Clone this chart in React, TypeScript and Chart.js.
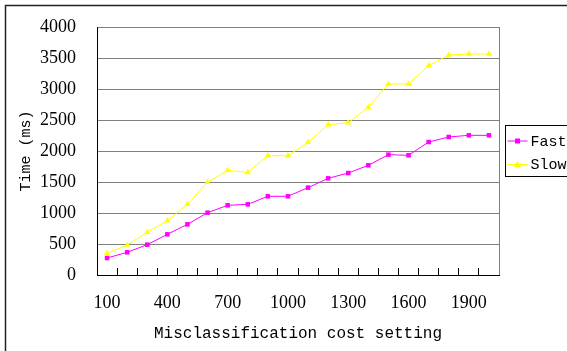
import React, { useEffect, useRef } from 'react';
import { Chart, registerables } from 'chart.js';

Chart.register(...registerables);

const categories = ['100', '200', '300', '400', '500', '600', '700', '800', '900', '1000', '1100', '1200', '1300', '1400', '1500', '1600', '1700', '1800', '1900', '2000'];
const fastValues = [274, 366, 489, 656, 817, 1005, 1124, 1140, 1269, 1269, 1409, 1559, 1645, 1769, 1941, 1930, 2145, 2226, 2253, 2253];
const slowValues = [350, 484, 689, 876, 1140, 1495, 1688, 1656, 1925, 1925, 2140, 2425, 2457, 2705, 3081, 3081, 3376, 3548, 3565, 3565];
const seriesNames = ['Fast', 'Slow'];
const seriesColors = ['#FF00FF', '#FFFF00'];
const yTitle = 'Time (ms)';
const xTitle = 'Misclassification cost setting';

const SERIF = '"Liberation Serif", "DejaVu Serif", serif';
const MONO = '"Liberation Mono", "DejaVu Sans Mono", monospace';

const decorPlugin = {
  id: 'decor',
  beforeDraw(chart: any) {
    const ctx = chart.ctx;
    ctx.save();
    ctx.fillStyle = '#fff';
    ctx.fillRect(0, 0, chart.width, chart.height);
    ctx.restore();
  },
  afterDraw(chart: any) {
    const ctx = chart.ctx;
    const a = chart.chartArea;
    ctx.save();
    ctx.strokeStyle = '#222';
    ctx.lineWidth = 1.5;
    ctx.strokeRect(5.5, 5.5, 1000, 1000);
    ctx.strokeStyle = '#808080';
    ctx.lineWidth = 1;
    ctx.beginPath();
    ctx.moveTo(Math.round(a.right) + 0.5, a.top);
    ctx.lineTo(Math.round(a.right) + 0.5, a.bottom);
    ctx.stroke();
    const x0 = Math.round(a.right) + 6.5;
    const cy = Math.round((a.top + a.bottom) / 2);
    const top = cy - 25.5;
    ctx.strokeStyle = '#000';
    ctx.lineWidth = 1;
    ctx.strokeRect(x0, top, 200, 51);
    chart.data.datasets.forEach((ds: any, i: number) => {
      const y = top + 15.5 + i * 23.5;
      ctx.strokeStyle = ds.borderColor;
      ctx.fillStyle = ds.backgroundColor;
      ctx.lineWidth = 1;
      ctx.beginPath();
      ctx.moveTo(x0 + 2, y);
      ctx.lineTo(x0 + 22, y);
      ctx.stroke();
      const mx = x0 + 12;
      if (ds.pointStyle === 'rect') {
        ctx.fillRect(mx - 2.5, y - 2.5, 5, 5);
      } else {
        ctx.beginPath();
        ctx.moveTo(mx, y - 3.5);
        ctx.lineTo(mx + 3.5, y + 2.5);
        ctx.lineTo(mx - 3.5, y + 2.5);
        ctx.closePath();
        ctx.fill();
      }
      ctx.fillStyle = '#000';
      ctx.font = `15px ${MONO}`;
      ctx.textBaseline = 'middle';
      ctx.textAlign = 'left';
      ctx.fillText(ds.label, x0 + 25, y + 1);
    });
    ctx.restore();
  },
};

export default function App() {
  const ref = useRef<HTMLCanvasElement>(null);
  useEffect(() => {
    if (!ref.current) return;
    const chart = new Chart(ref.current, {
      type: 'line',
      data: {
        labels: categories,
        datasets: [
          {
            label: seriesNames[0],
            data: fastValues,
            borderColor: seriesColors[0],
            backgroundColor: seriesColors[0],
            borderWidth: 1,
            pointStyle: 'rect',
            pointRadius: 3.2,
            pointBorderWidth: 0,
            tension: 0,
          },
          {
            label: seriesNames[1],
            data: slowValues,
            borderColor: seriesColors[1],
            backgroundColor: seriesColors[1],
            borderWidth: 1,
            pointStyle: 'triangle',
            pointRadius: 3.6,
            pointBorderWidth: 0,
            tension: 0,
          },
        ],
      },
      options: {
        animation: false,
        responsive: false,
        devicePixelRatio: 1,
        layout: { padding: { left: 0, top: 27, right: 68, bottom: 0 } },
        plugins: { legend: { display: false }, tooltip: { enabled: false } },
        scales: {
          x: {
            type: 'category',
            offset: true,
            afterFit(scale: any) { scale.height = 76; },
            grid: { offset: true, drawOnChartArea: false, drawTicks: true, tickLength: -7, color: '#000', lineWidth: 1 },
            border: { color: '#000', width: 1 },
            ticks: {
              autoSkip: false,
              maxRotation: 0,
              minRotation: 0,
              padding: 24,
              color: '#000',
              font: { family: SERIF, size: 18 },
              callback: (_v: any, i: number) => (i % 3 === 0 ? categories[i] : ''),
            },
            title: {
              display: true,
              text: xTitle,
              color: '#000',
              font: { family: MONO, size: 16 },
              padding: { top: 0, bottom: 8 },
            },
          },
          y: {
            min: 0,
            max: 4000,
            afterFit(scale: any) { scale.width = 97; },
            grid: { color: '#808080', lineWidth: 1, drawTicks: true, tickLength: 21, tickColor: 'rgba(0,0,0,0)' },
            border: { color: '#000', width: 1 },
            ticks: {
              stepSize: 500,
              padding: 0,
              color: '#000',
              font: { family: SERIF, size: 18 },
              callback: (v: any) => String(v),
            },
            title: {
              display: true,
              text: yTitle,
              color: '#000',
              font: { family: MONO, size: 15 },
              padding: { top: 17, bottom: 0 },
            },
          },
        },
      },
      plugins: [decorPlugin],
    } as any);
    return () => chart.destroy();
  }, []);
  return (
    <div style={{ position: 'fixed', left: 0, top: 0, width: 567, height: 351, overflow: 'hidden', background: '#fff' }}>
      <canvas ref={ref} width={567} height={351} style={{ width: 567, height: 351, display: 'block' }} />
    </div>
  );
}
